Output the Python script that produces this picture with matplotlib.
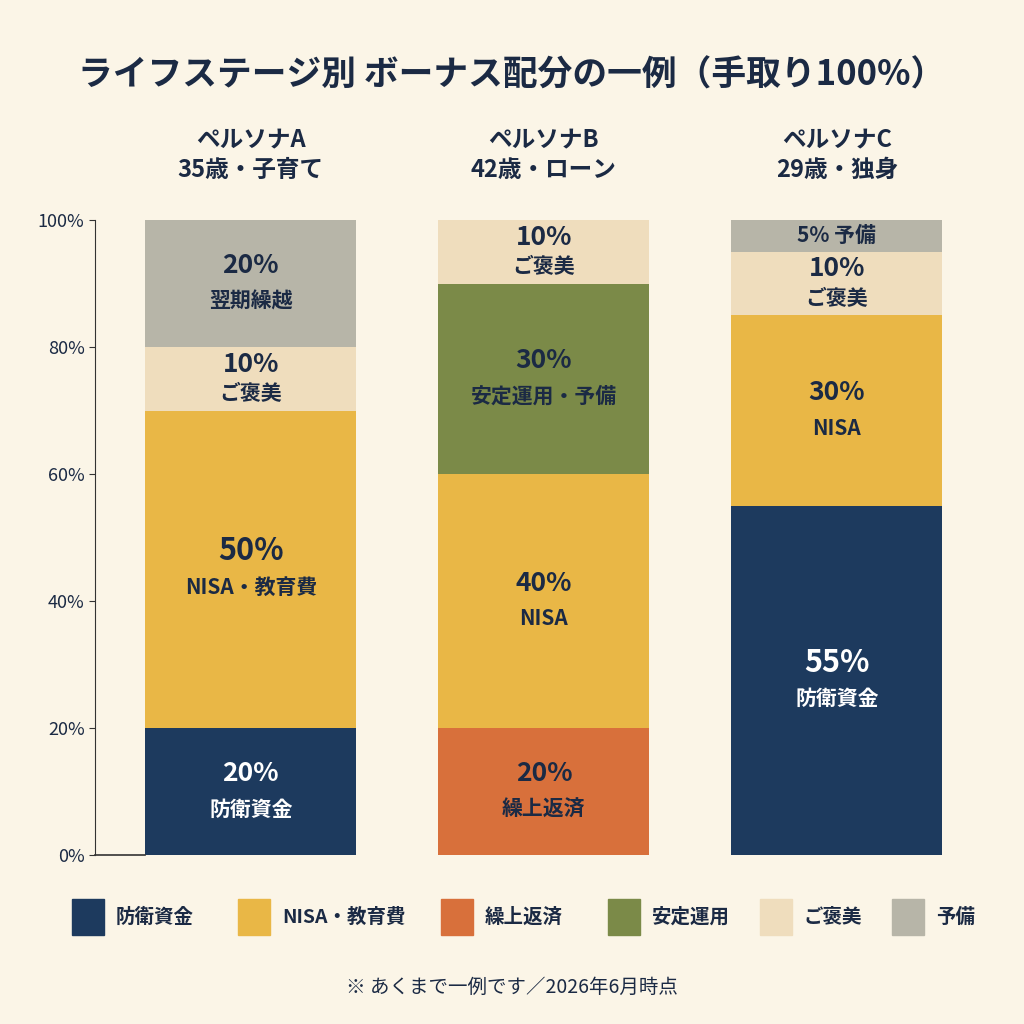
import matplotlib.pyplot as plt
from matplotlib.patches import Rectangle

plt.rcParams['font.family'] = ['Noto Sans CJK JP', 'DejaVu Sans']

personas = ["ペルソナA\n35歳・子育て", "ペルソナB\n42歳・ローン", "ペルソナC\n29歳・独身"]
# segments per persona, bottom to top: (value, label, color key)
seg_a = [(20, "防衛資金", "navy"), (50, "NISA・教育費", "yellow"), (10, "ご褒美", "beige"), (20, "翌期繰越", "gray")]
seg_b = [(20, "繰上返済", "orange"), (40, "NISA", "yellow"), (30, "安定運用・予備", "green"), (10, "ご褒美", "beige")]
seg_c = [(55, "防衛資金", "navy"), (30, "NISA", "yellow"), (10, "ご褒美", "beige"), (5, "予備", "gray")]
legend_names = ["防衛資金", "NISA・教育費", "繰上返済", "安定運用", "ご褒美", "予備"]
legend_keys = ["navy", "yellow", "orange", "green", "beige", "gray"]

colors = {"navy": "#1D3A5E", "yellow": "#E9B746", "orange": "#D8703B",
          "green": "#7B8A48", "beige": "#EFDDBD", "gray": "#B7B5A8"}
bg = "#FBF5E7"
dark = "#1B2A44"

fig = plt.figure(figsize=(10.24, 10.24), dpi=100, facecolor=bg)
ax = fig.add_axes([95/1024, 169/1024, 865/1024, 635/1024], facecolor=bg)
ax.set_xlim(-0.532, 2.42)
ax.set_ylim(0, 100)
w = 0.72

for i, segs in enumerate([seg_a, seg_b, seg_c]):
    bottom = 0
    for val, name, key in segs:
        ax.bar(i, val, w, bottom=bottom, color=colors[key], linewidth=0)
        tc = "white" if key == "navy" else dark
        mid = bottom + val / 2
        if val <= 5:
            ax.text(i, mid, f"{val}% {name}", ha="center", va="center", fontsize=15,
                    fontweight="bold", color=tc)
        else:
            big = 22 if val >= 50 else 19
            off = 2.8 if val >= 20 else 2.3
            ax.text(i, mid + off, f"{val}%", ha="center", va="center", fontsize=big,
                    fontweight="bold", color=tc)
            ax.text(i, mid - off, name, ha="center", va="center", fontsize=15,
                    fontweight="bold", color=tc)
        bottom += val
    ax.text(i, 106, personas[i], ha="center", va="bottom", fontsize=17,
            fontweight="bold", color=dark, linespacing=1.3)

for s in ["top", "right", "bottom"]:
    ax.spines[s].set_visible(False)
ax.spines["left"].set_color("#333333")
ax.plot([-0.532, -w/2], [0, 0], color="#333333", lw=1.2, clip_on=False)
ax.set_xticks([])
ax.set_yticks(range(0, 101, 20))
ax.set_yticklabels([f"{v}%" for v in range(0, 101, 20)], fontsize=13, color=dark)
ax.tick_params(axis="y", length=4, color="#333333")

fig.text(0.5, 1 - 75/1024, "ライフステージ別 ボーナス配分の一例（手取り100%）", ha="center",
         va="center", fontsize=25, fontweight="bold", color=dark)

lx = [72, 238, 441, 608, 760, 892]
for x, name, key in zip(lx, legend_names, legend_keys):
    fig.patches.append(Rectangle((x/1024, 1 - 935/1024), 32/1024, 36/1024,
                                 transform=fig.transFigure, color=colors[key]))
    fig.text((x + 44)/1024, 1 - 917/1024, name, va="center", fontsize=14,
             fontweight="bold", color=dark)

fig.text(0.5, 1 - 987/1024, "※ あくまで一例です／2026年6月時点", ha="center", va="center",
         fontsize=14, color=dark)

fig.savefig("out.png", facecolor=bg)
